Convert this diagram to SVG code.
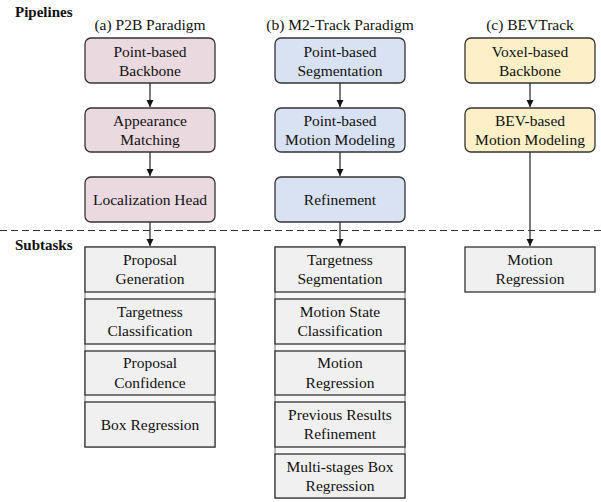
<svg xmlns="http://www.w3.org/2000/svg" width="601" height="502" viewBox="0 0 601 502" font-family="Liberation Serif, Times New Roman, DejaVu Serif, serif">
<defs>
<style>
.t{font-size:15.5px;fill:#111;text-anchor:middle}
.h{font-size:15px;font-weight:bold;fill:#111}
.pb{stroke:#333;stroke-width:1.3}
.pink{fill:#ead9df}.blue{fill:#d9e2f2}.yel{fill:#fdf0c8}
.sb{fill:#f0f0f0;stroke:#333;stroke-width:1.3}
.stack{fill:#f7f7f7;stroke:#777;stroke-width:1}
.c{stroke:#333;stroke-width:1.3;fill:none}
</style>
<marker id="ar" markerWidth="8" markerHeight="8" refX="7" refY="4" orient="auto" markerUnits="userSpaceOnUse">
<path d="M0,0.5 L7,4 L0,7.5 z" fill="#111"/>
</marker>
</defs>
<rect width="601" height="502" fill="#fff"/>
<text class="h" x="15" y="17" font-family="Liberation Serif, serif">Pipelines</text>
<text class="h" x="15" y="250" font-family="Liberation Serif, serif">Subtasks</text>
<text class="t" x="150" y="30">(a) P2B Paradigm</text>
<text class="t" x="340" y="30">(b) M2-Track Paradigm</text>
<text class="t" x="530" y="30">(c) BEVTrack</text>
<line x1="0" y1="230.5" x2="601" y2="230.5" stroke="#333" stroke-width="1" stroke-dasharray="7,4"/>
<g id="connectors">
<line class="c" x1="150" y1="83" x2="150" y2="107" marker-end="url(#ar)"/>
<line class="c" x1="150" y1="152" x2="150" y2="176" marker-end="url(#ar)"/>
<line class="c" x1="150" y1="222" x2="150" y2="246" marker-end="url(#ar)"/>
<line class="c" x1="340" y1="83" x2="340" y2="107" marker-end="url(#ar)"/>
<line class="c" x1="340" y1="152" x2="340" y2="176" marker-end="url(#ar)"/>
<line class="c" x1="340" y1="222" x2="340" y2="246" marker-end="url(#ar)"/>
<line class="c" x1="530" y1="83" x2="530" y2="107" marker-end="url(#ar)"/>
<line class="c" x1="530" y1="152" x2="530" y2="246" marker-end="url(#ar)"/>
</g>
<g id="a1"><rect class="pb pink" x="85" y="38" width="130" height="45" rx="6"/><text class="t" x="150" y="57">Point-based</text><text class="t" x="150" y="76">Backbone</text></g>
<g id="a2"><rect class="pb pink" x="85" y="108" width="130" height="44" rx="6"/><text class="t" x="150" y="126">Appearance</text><text class="t" x="150" y="145">Matching</text></g>
<g id="a3"><rect class="pb pink" x="85" y="177" width="130" height="45" rx="6"/><text class="t" x="150" y="205">Localization Head</text></g>
<g id="b1"><rect class="pb blue" x="275" y="38" width="130" height="45" rx="6"/><text class="t" x="340" y="57">Point-based</text><text class="t" x="340" y="76">Segmentation</text></g>
<g id="b2"><rect class="pb blue" x="275" y="108" width="130" height="44" rx="6"/><text class="t" x="340" y="126">Point-based</text><text class="t" x="340" y="145">Motion Modeling</text></g>
<g id="b3"><rect class="pb blue" x="275" y="177" width="130" height="45" rx="6"/><text class="t" x="340" y="205">Refinement</text></g>
<g id="c1"><rect class="pb yel" x="465" y="38" width="130" height="45" rx="6"/><text class="t" x="530" y="57">Voxel-based</text><text class="t" x="530" y="76">Backbone</text></g>
<g id="c2"><rect class="pb yel" x="465" y="108" width="130" height="44" rx="6"/><text class="t" x="530" y="126">BEV-based</text><text class="t" x="530" y="145">Motion Modeling</text></g>
<g id="stackA">
<rect class="stack" x="85" y="247" width="130" height="200"/>
<g id="sa1"><rect class="sb" x="85" y="247" width="130" height="45"/><text class="t" x="150" y="265">Proposal</text><text class="t" x="150" y="284">Generation</text></g>
<g id="sa2"><rect class="sb" x="85" y="299" width="130" height="45"/><text class="t" x="150" y="317">Targetness</text><text class="t" x="150" y="336">Classification</text></g>
<g id="sa3"><rect class="sb" x="85" y="351" width="130" height="44"/><text class="t" x="150" y="368">Proposal</text><text class="t" x="150" y="388">Confidence</text></g>
<g id="sa4"><rect class="sb" x="85" y="402" width="130" height="45"/><text class="t" x="150" y="430">Box Regression</text></g>
</g>
<g id="stackB">
<rect class="stack" x="275" y="247" width="130" height="251"/>
<g id="sb1"><rect class="sb" x="275" y="247" width="130" height="45"/><text class="t" x="340" y="265">Targetness</text><text class="t" x="340" y="284">Segmentation</text></g>
<g id="sb2"><rect class="sb" x="275" y="299" width="130" height="45"/><text class="t" x="340" y="317">Motion State</text><text class="t" x="340" y="336">Classification</text></g>
<g id="sb3"><rect class="sb" x="275" y="351" width="130" height="44"/><text class="t" x="340" y="368">Motion</text><text class="t" x="340" y="388">Regression</text></g>
<g id="sb4"><rect class="sb" x="275" y="402" width="130" height="45"/><text class="t" x="340" y="420">Previous Results</text><text class="t" x="340" y="439">Refinement</text></g>
<g id="sb5"><rect class="sb" x="275" y="454" width="130" height="44"/><text class="t" x="340" y="472">Multi-stages Box</text><text class="t" x="340" y="491">Regression</text></g>
</g>
<g id="sc1"><rect class="sb" x="465" y="247" width="130" height="45"/><text class="t" x="530" y="265">Motion</text><text class="t" x="530" y="284">Regression</text></g>
</svg>
